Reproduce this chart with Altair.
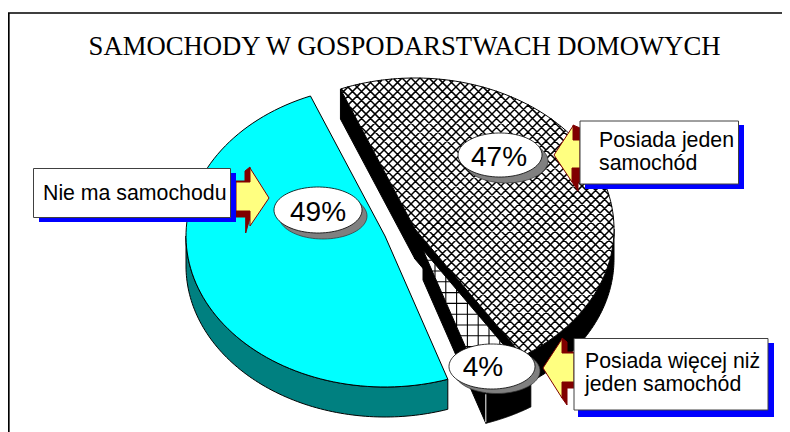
import math
import altair as alt
import pandas as pd

# ---- data -------------------------------------------------------------
shares = [49, 47, 4]
share_labels = ["49%", "47%", "4%"]
callouts = ["Nie ma samochodu", "Posiada jeden", "samochód", "Posiada więcej niż", "jeden samochód"]
title_text = "SAMOCHODY W GOSPODARSTWACH DOMOWYCH"

# ---- style / layout ----------------------------------------------------
RX, RY, DEPTH = 199, 151, 30
START = 71.6
CENTERS = [(385, 236), (415, 229), (423, 250)]
CYAN, TEAL, BLUE, YELLOW, DARKRED, GREY = "#00FFFF", "#008080", "#0000FF", "#FFFF80", "#800000", "#808080"
PROJ = dict(type="identity", scale=1, translate=[-8, -8])


def ell(c, t, dy=0):
    a = math.radians(t)
    return [c[0] + RX * math.cos(a), c[1] + RY * math.sin(a) + dy]


def arc(c, t0, t1, dy=0, n=90):
    return [ell(c, t0 + (t1 - t0) * i / n, dy) for i in range(n + 1)]


def poly(pts):
    pts = [list(p) for p in pts]
    return {"type": "Polygon", "coordinates": [pts + [pts[0]]]}


def quad(a, b):
    return poly([a, b, [b[0], b[1] + DEPTH], [a[0], a[1] + DEPTH]])


def wall(c, t0, t1):
    return poly(arc(c, t0, t1) + arc(c, t0, t1, DEPTH)[::-1])


def clip(p, q, ring):
    """Parts of the segment p-q that lie inside the polygon ring."""
    ts = []
    dx, dy = q[0] - p[0], q[1] - p[1]
    for a, b in zip(ring, ring[1:] + ring[:1]):
        ex, ey = b[0] - a[0], b[1] - a[1]
        den = dx * ey - dy * ex
        if abs(den) < 1e-9:
            continue
        t = ((a[0] - p[0]) * ey - (a[1] - p[1]) * ex) / den
        u = ((a[0] - p[0]) * dy - (a[1] - p[1]) * dx) / den
        if 0 <= u < 1 and 0 <= t <= 1:
            ts.append(t)
    ts.sort()
    return [[[p[0] + dx * s, p[1] + dy * s], [p[0] + dx * e, p[1] + dy * e]]
            for s, e in zip(ts[0::2], ts[1::2])]


def hatch(ring, lines):
    segs = []
    for p, q in lines:
        segs += clip(p, q, ring)
    return {"type": "MultiLineString", "coordinates": segs}


def shape(geoms, **kw):
    vals = [{"type": "Feature", "properties": {}, "geometry": g} for g in geoms]
    return alt.Chart(alt.Data(values=vals)).mark_geoshape(**kw).project(**PROJ)


def oval(cx, cy, rx, ry):
    return poly([[cx + rx * math.cos(i * math.pi / 45), cy + ry * math.sin(i * math.pi / 45)] for i in range(90)])


# slice angles from the shares
a49 = (START, START + shares[0] * 3.6)
a47 = (a49[1], a49[1] + shares[1] * 3.6)
a04 = (a47[1], a47[1] + shares[2] * 3.6)

c49, c47, c04 = CENTERS
ring49 = [list(c49)] + arc(c49, *a49)
ring47 = [list(c47)] + arc(c47, *a47)
ring04 = [list(c04)] + arc(c04, *a04)

diag = []
STEP = 9.0
for i in range(-60, 120):
    k = i * STEP
    diag.append(((k, 0), (k + 700, 700)))
    diag.append(((k + 300, 0), (k + 300 - 700, 700)))
grid = []
for i in range(0, 80):
    grid.append(((i * 10.8 + 3, 0), (i * 10.8 + 3, 500)))
    grid.append(((0, i * 10.8 + 1), (800, i * 10.8 + 1)))

layers = [
    # frame
    shape([{"type": "LineString", "coordinates": [[8.8, 432], [8.8, 13], [790, 13]]}],
          filled=False, stroke="black", strokeWidth=1.7),
    # 49 %
    shape([wall(c49, a49[0], 180)], fill=TEAL, stroke="black", strokeWidth=1),
    shape([poly(ring49)], fill=CYAN, stroke="black", strokeWidth=1),
    # 47 %
    shape([wall(c47, 360, a47[1]),
           quad(ell(c47, a47[0]), c47),
           quad(c47, ell(c47, a47[1]))], fill="black", stroke="black", strokeWidth=1),
    shape([poly(ring47)], fill="white", strokeWidth=0),
    shape([hatch(ring47, diag)], filled=False, stroke="black", strokeWidth=1.5),
    shape([poly(ring47)], filled=False, stroke="black", strokeWidth=1),
    # 4 %
    shape([wall(c04, a04[0], a04[1]), quad(c04, ell(c04, a04[1]))], fill="black", stroke="black", strokeWidth=1),
    shape([poly(ring04)], fill="white", strokeWidth=0),
    shape([hatch(ring04, grid)], filled=False, stroke="black", strokeWidth=1.1),
    shape([poly(ring04)], filled=False, stroke="black", strokeWidth=1),
    shape([{"type": "LineString", "coordinates": [ell(c04, a04[1], 1), ell(c04, a04[1], DEPTH - 1)]}],
          filled=False, stroke="white", strokeWidth=1),
    # arrows: extruded back then yellow face
    shape([poly([(236, 181), (245, 181), (245, 171), (250, 167), (255, 200), (245.7, 233), (245.7, 217), (236, 217)]),
           poly([(573, 125), (580, 128), (580, 182), (578, 182), (578, 191), (572, 182)]),
           poly([(562, 338), (567, 342), (567, 352), (574, 352), (574, 388), (567, 388), (567, 405), (562, 398)])],
          fill=DARKRED, stroke=DARKRED, strokeWidth=1),
    shape([poly([(236, 182), (250, 182), (250, 168), (269, 198), (250, 226), (250, 211), (236, 211)]),
           poly([(580, 140), (573, 140), (573, 126), (554, 155), (572, 182), (572, 168), (580, 168)]),
           poly([(574, 353), (562, 353), (562, 339), (543, 368), (562, 398), (562, 382), (574, 382)])],
          fill=YELLOW, stroke=DARKRED, strokeWidth=1),
    # boxes
    shape([poly([(39, 173), (236, 173), (236, 222), (39, 222)]),
           poly([(585, 125), (744, 125), (744, 189), (585, 189)]),
           poly([(578, 343), (774, 343), (774, 417), (578, 417)])], fill=BLUE, strokeWidth=0),
    shape([poly([(33.5, 168.5), (230.5, 168.5), (230.5, 217.5), (33.5, 217.5)]),
           poly([(580, 121), (738.5, 121), (738.5, 184), (580, 184)]),
           poly([(574, 338.5), (768, 338.5), (768, 410), (574, 410)])], fill="white", stroke="#404040", strokeWidth=1),
    # value ovals
    shape([oval(323, 216, 44, 23), oval(506, 161, 42, 22), oval(497, 371, 43, 22.5)],
          fill=GREY, stroke="#303030", strokeWidth=0.7),
    shape([oval(318, 210, 44, 23), oval(500, 155, 42, 22), oval(492, 366.5, 43, 22.5)],
          fill="white", stroke="black", strokeWidth=0.8),
]

title_df = pd.DataFrame({"x": [404.5], "y": [55], "t": [title_text]})
layers.append(alt.Chart(title_df).mark_text(font="Liberation Serif", fontSize=26.7, align="center", baseline="alphabetic", color="black")
              .encode(longitude="x:Q", latitude="y:Q", text="t:N").project(**PROJ))

val_df = pd.DataFrame({"x": [318, 499, 483], "y": [220.5, 166, 376], "t": share_labels})
layers.append(alt.Chart(val_df).mark_text(font="Liberation Sans", fontSize=28, align="center", baseline="alphabetic", color="black")
              .encode(longitude="x:Q", latitude="y:Q", text="t:N").project(**PROJ))

lab_df = pd.DataFrame({"x": [43, 599, 599, 585, 585], "y": [200, 147, 170, 368, 391], "t": callouts})
layers.append(alt.Chart(lab_df).mark_text(font="Liberation Sans", fontSize=21.3, align="left", baseline="alphabetic", color="black")
              .encode(longitude="x:Q", latitude="y:Q", text="t:N").project(**PROJ))

chart = alt.layer(*layers).properties(
    width=774, height=424, padding=0, background="white",
    autosize=alt.AutoSizeParams(type="none"),
).configure_view(stroke=None)

chart.save("out.html", embed_options={"renderer": "svg", "actions": False})
